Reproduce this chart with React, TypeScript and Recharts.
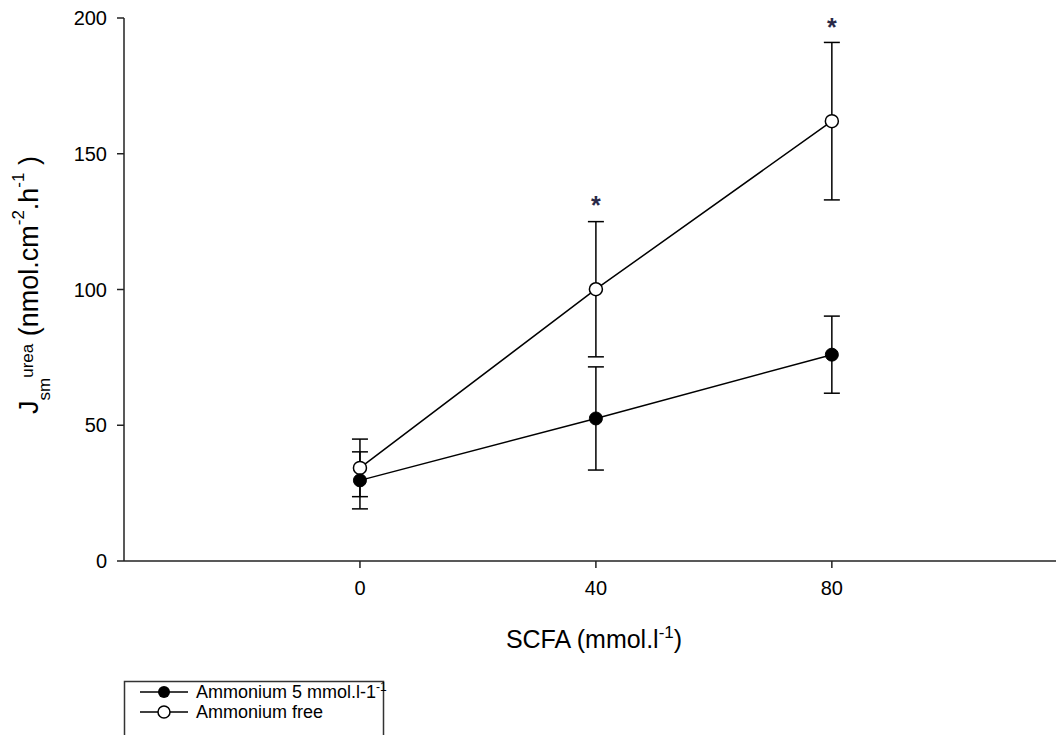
import React from 'react';
import { ComposedChart, Line, XAxis, YAxis, ErrorBar, ReferenceDot } from 'recharts';

const scfa = [0, 40, 80];
const ammonium5 = [29.7, 52.5, 76.0];
const ammonium5Err = [10.5, 19.0, 14.2];
const ammoniumFree = [34.3, 100.1, 162.0];
const ammoniumFreeErr = [10.6, 24.9, 29.0];
const xTicks = [0, 40, 80];
const yTicks = [0, 50, 100, 150, 200];
const sigX = [40, 80];
const sigY = [133, 198.5];
const seriesNames = ['Ammonium 5 mmol.l-1', 'Ammonium free'];

const data = scfa.map((x, i) => ({
  x,
  a5: ammonium5[i],
  a5e: ammonium5Err[i],
  af: ammoniumFree[i],
  afe: ammoniumFreeErr[i],
}));

const FONT = "Arial, 'Liberation Sans', sans-serif";
const AX = '#222';

const FilledDot = (p: any) => (
  <circle cx={p.cx} cy={p.cy} r={6.5} fill="#000" stroke="#000" strokeWidth={1} />
);
const OpenDot = (p: any) => (
  <circle cx={p.cx} cy={p.cy} r={6.5} fill="#fff" stroke="#000" strokeWidth={1.5} />
);

const Star = (p: any) => (
  <text x={p.cx} y={p.cy + 14} textAnchor="middle" fontSize={25} fontWeight="bold" fontFamily={FONT} fill="#2a2a48">*</text>
);

const YLabel = () => (
  <text transform="rotate(-90)" x={-285} y={38} textAnchor="middle" fontFamily={FONT} fontSize={27} fill="#000">
    <tspan>J</tspan>
    <tspan fontSize={17} dy={12}>sm</tspan>
    <tspan fontSize={17} dy={-17}>urea</tspan>
    <tspan dy={5}> (nmol.cm</tspan>
    <tspan fontSize={17} dy={-14}>-2</tspan>
    <tspan dy={14}>.h</tspan>
    <tspan fontSize={17} dy={-14}>-1</tspan>
    <tspan dy={14}> )</tspan>
  </text>
);

const XLabel = () => (
  <text x={594} y={648} textAnchor="middle" fontFamily={FONT} fontSize={25} fill="#000">
    <tspan>SCFA (mmol.l</tspan>
    <tspan fontSize={17} dy={-10}>-1</tspan>
    <tspan dy={10}>)</tspan>
  </text>
);

const LegendBox = () => (
  <svg width={1056} height={735} style={{ position: 'absolute', left: 0, top: 0, pointerEvents: 'none' }}>
    <path d="M124.5 740 L124.5 681.5 L383.5 681.5 L383.5 740" fill="none" stroke="#333" strokeWidth={1.5} />
    <line x1={140} y1={692} x2={188} y2={692} stroke="#000" strokeWidth={1.5} />
    <circle cx={164} cy={692} r={6} fill="#000" />
    <text x={196} y={698} fontFamily={FONT} fontSize={18} fill="#000">
      <tspan>{seriesNames[0]}</tspan>
      <tspan fontSize={12} dy={-7}>-1</tspan>
    </text>
    <line x1={140} y1={712} x2={188} y2={712} stroke="#000" strokeWidth={1.5} />
    <circle cx={164} cy={712} r={6} fill="#fff" stroke="#000" strokeWidth={1.5} />
    <text x={196} y={718} fontFamily={FONT} fontSize={18} fill="#000">{seriesNames[1]}</text>
  </svg>
);

export default function App() {
  return (
    <div style={{ position: 'absolute', left: 0, top: 0, width: 1056, height: 735, background: '#fff', overflow: 'hidden' }}>
      <ComposedChart width={1056} height={735} data={data} margin={{ top: 18, right: 0, bottom: 0, left: 0 }}>
        <XAxis
          dataKey="x"
          type="number"
          domain={[-40, 118]}
          ticks={xTicks}
          allowDataOverflow
          height={174}
          tickSize={7}
          tickMargin={13}
          axisLine={{ stroke: AX, strokeWidth: 1.5 }}
          tickLine={{ stroke: AX, strokeWidth: 1.5 }}
          tick={{ fill: '#000', fontSize: 20, fontFamily: FONT }}
          label={<XLabel />}
        />
        <YAxis
          type="number"
          domain={[0, 200]}
          ticks={yTicks}
          width={124}
          tickSize={7}
          tickMargin={10}
          axisLine={{ stroke: AX, strokeWidth: 1.5 }}
          tickLine={{ stroke: AX, strokeWidth: 1.5 }}
          tick={{ fill: '#000', fontSize: 20, fontFamily: FONT }}
          label={<YLabel />}
        />
        <Line dataKey="af" stroke="#000" strokeWidth={1.5} dot={<OpenDot />} isAnimationActive={false}>
          <ErrorBar dataKey="afe" direction="y" width={8} stroke="#000" strokeWidth={1.5} />
        </Line>
        <Line dataKey="a5" stroke="#000" strokeWidth={1.5} dot={<FilledDot />} isAnimationActive={false}>
          <ErrorBar dataKey="a5e" direction="y" width={8} stroke="#000" strokeWidth={1.5} />
        </Line>
        {sigX.map((x, i) => (
          <ReferenceDot key={i} x={x} y={sigY[i]} r={0} shape={<Star />} ifOverflow="visible" />
        ))}
      </ComposedChart>
      <LegendBox />
    </div>
  );
}
